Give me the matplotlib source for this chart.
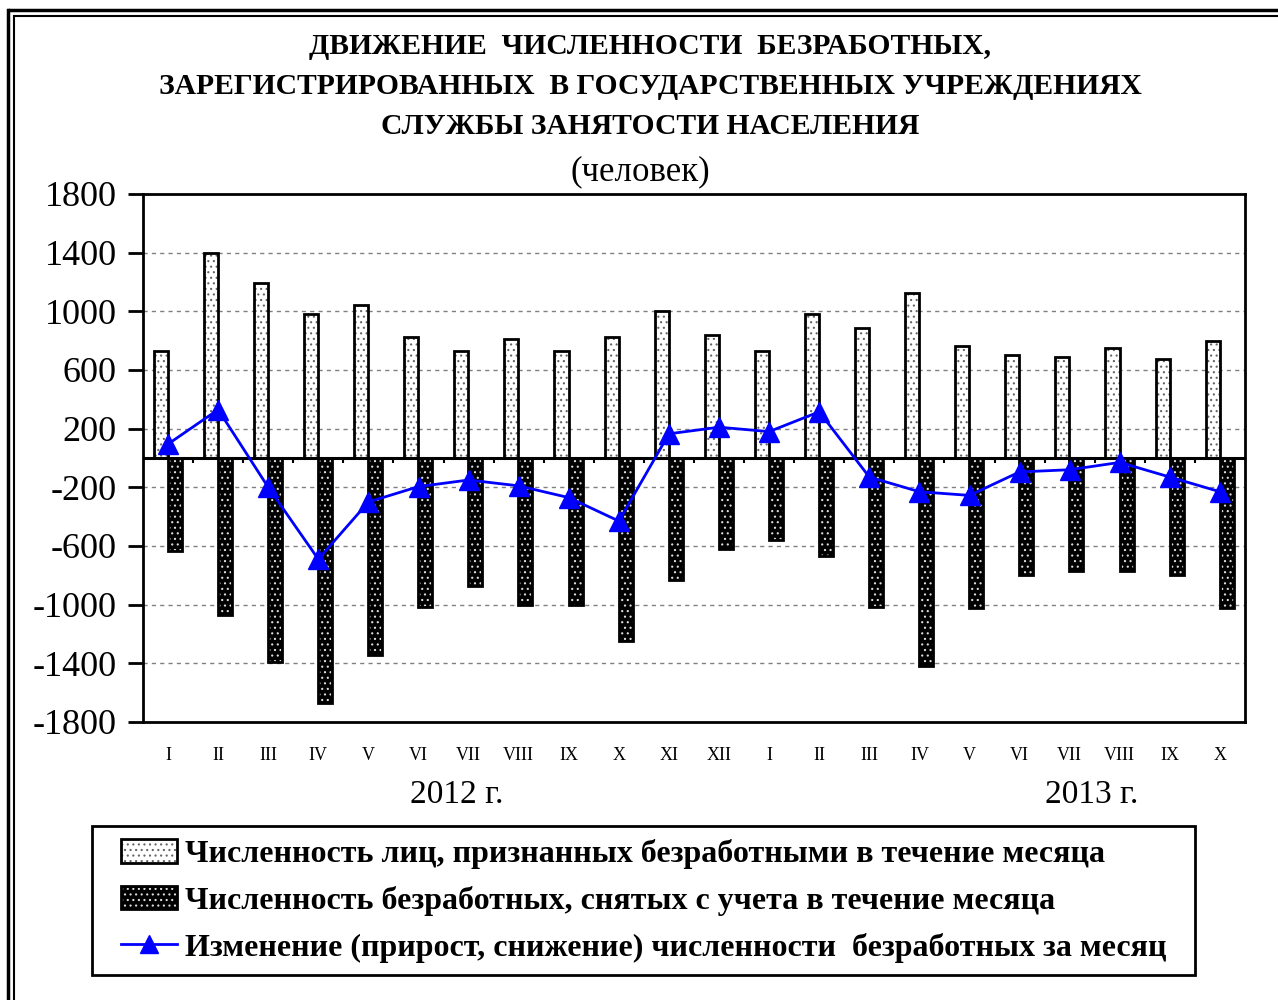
import numpy as np
import matplotlib.pyplot as plt
from matplotlib.lines import Line2D
from matplotlib.patches import Rectangle
from matplotlib.legend_handler import HandlerTuple

plt.rcParams['font.family'] = ['Liberation Serif', 'DejaVu Serif']
plt.rcParams['axes.unicode_minus'] = False
plt.rcParams['hatch.linewidth'] = 0.8

months = ['I', 'II', 'III', 'IV', 'V', 'VI', 'VII', 'VIII', 'IX', 'X', 'XI', 'XII',
          'I', 'II', 'III', 'IV', 'V', 'VI', 'VII', 'VIII', 'IX', 'X']
registered = [730, 1400, 1190, 980, 1040, 825, 730, 810, 730, 825, 1000, 840,
              730, 980, 885, 1125, 765, 705, 690, 750, 675, 795]
removed = [-635, -1070, -1390, -1670, -1340, -1015, -875, -1000, -1000, -1250, -830, -620,
           -560, -665, -1015, -1415, -1025, -800, -770, -770, -800, -1025]
change = [95, 330, -200, -690, -300, -195, -150, -190, -270, -430, 165, 210,
          180, 315, -130, -230, -255, -95, -80, -30, -130, -230]
yticks = [1800, 1400, 1000, 600, 200, -200, -600, -1000, -1400, -1800]

W, H = 1278, 1000
fig = plt.figure(figsize=(W / 100, H / 100), dpi=100)
ax = fig.add_axes([143 / W, 1 - 722 / H, (1245 - 143) / W, (722 - 194) / H])

x = np.arange(len(months))
bw = 0.28
p_pos = ax.bar(x - 0.145, registered, bw, facecolor='white', edgecolor='#666666',
               hatch='...', linewidth=0, zorder=2)
p_pos_e = ax.bar(x - 0.145, registered, bw, fill=False, edgecolor='black',
                 linewidth=2, zorder=3)
p_neg = ax.bar(x + 0.135, removed, bw, facecolor='black', edgecolor='#dddddd',
               hatch='...', linewidth=0, zorder=2)
p_neg_e = ax.bar(x + 0.135, removed, bw, fill=False, edgecolor='black',
                 linewidth=2, zorder=3)
ln, = ax.plot(x, change, color='#0000ff', lw=2, marker='^', markersize=14,
              markeredgecolor='#0000ff', zorder=5)

ax.axhline(0, color='black', lw=2.2, zorder=4)
ax.vlines(x[:-1] + 0.5, -35, 0, color='black', lw=1.5, zorder=4)

ax.set_xlim(-0.5, len(months) - 0.5)
ax.set_ylim(-1800, 1800)
ax.set_yticks(yticks)
ax.set_yticklabels([str(v) for v in yticks], fontsize=26)
ax.tick_params(axis='y', direction='out', length=11, width=2, pad=8)
ax.set_xticks(x)
ax.set_xticklabels(months, fontsize=13)
ax.tick_params(axis='x', length=0, pad=18)
ax.yaxis.grid(True, linestyle=(0, (3, 3)), color='#808080', lw=1)
ax.set_axisbelow(True)
for s in ax.spines.values():
    s.set_linewidth(2)

fig.text(457 / W, 1 - 795 / H, '2012 г.', fontsize=24, ha='center', va='center')
fig.text(1092 / W, 1 - 795 / H, '2013 г.', fontsize=24, ha='center', va='center')

title = ['ДВИЖЕНИЕ  ЧИСЛЕННОСТИ  БЕЗРАБОТНЫХ,',
         'ЗАРЕГИСТРИРОВАННЫХ  В ГОСУДАРСТВЕННЫХ УЧРЕЖДЕНИЯХ',
         'СЛУЖБЫ ЗАНЯТОСТИ НАСЕЛЕНИЯ']
for i, t in enumerate(title):
    fig.text(650 / W, 1 - (47 + 40 * i) / H, t, fontsize=21.3, fontweight='bold',
             ha='center', va='center')
fig.text(640 / W, 1 - 172 / H, '(человек)', fontsize=25, ha='center', va='center')

labels = ['Численность лиц, признанных безработными в течение месяца',
          'Численность безработных, снятых с учета в течение месяца',
          'Изменение (прирост, снижение) численности  безработных за месяц']
leg = fig.legend([(p_pos[0], p_pos_e[0]), (p_neg[0], p_neg_e[0]), ln], labels,
                 handler_map={tuple: HandlerTuple(ndivide=1)},
                 loc='upper left', bbox_to_anchor=(121 / W, 1 - 839 / H),
                 prop={'weight': 'bold', 'size': 23}, frameon=False,
                 handlelength=1.75, handleheight=0.75, markerscale=0.9,
                 handletextpad=0.25, labelspacing=0.53, borderpad=0,
                 borderaxespad=0)
fig.add_artist(Rectangle((92 / W, 1 - 975 / H), (1195 - 92) / W, (975 - 826) / H,
                         transform=fig.transFigure, fill=False, edgecolor='black', lw=2))

# double frame round the picture
for off, lw in ((10, 2.5), (16, 1.5)):
    fig.add_artist(Line2D([off / W, 1], [1 - off / H, 1 - off / H], color='black', lw=lw))
    fig.add_artist(Line2D([(off - 2) / W, (off - 2) / W], [0, 1 - off / H], color='black', lw=lw))

fig.savefig('out.png', dpi=100)
